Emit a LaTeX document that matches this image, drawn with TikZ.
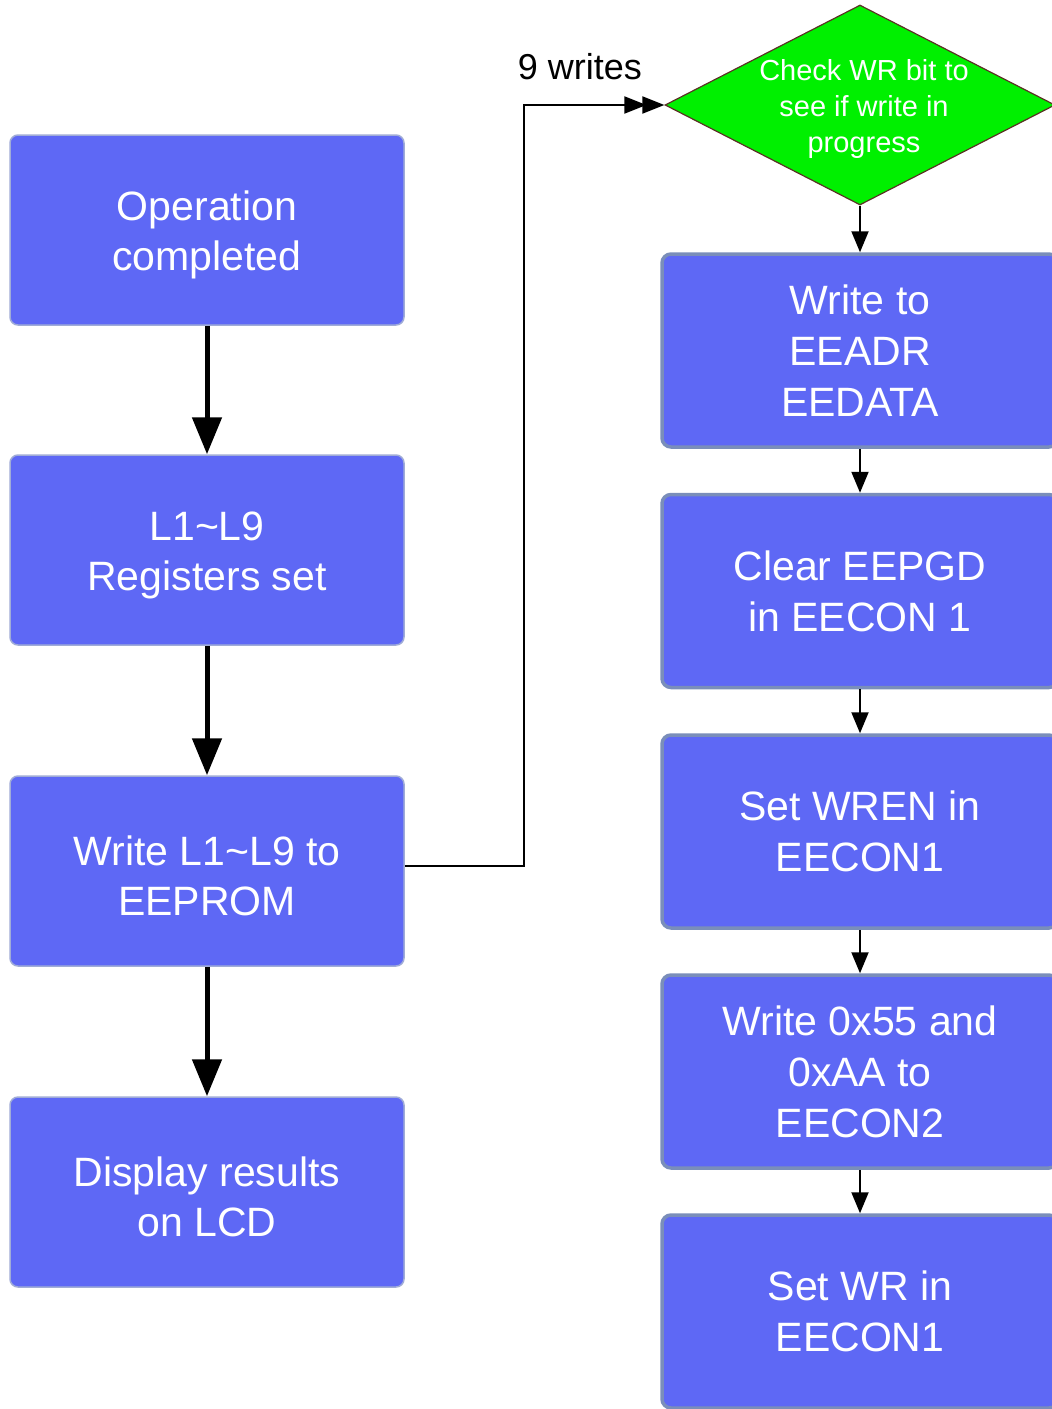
\documentclass[tikz,border=0pt]{standalone}
\usepackage{fontspec}
\setmainfont{Liberation Sans}
\usetikzlibrary{shapes.geometric,arrows.meta}
\definecolor{boxblue}{RGB}{94,104,245}
\definecolor{leftedge}{RGB}{160,172,215}
\definecolor{rightedge}{RGB}{122,142,186}
\definecolor{decgreen}{RGB}{0,240,0}
\definecolor{decedge}{RGB}{90,50,35}
% a taller first line drops the two-line captions slightly
\newcommand{\capstrut}{\rule{0pt}{40pt}}
\tikzset{
  leftbox/.style={draw=leftedge, line width=1.5pt, fill=boxblue, rounded corners=8pt,
    minimum width=394pt, minimum height=190pt, inner sep=0pt, text=white, align=center,
    font=\fontsize{41}{50}\selectfont},
  rightbox/.style={draw=rightedge, line width=3.5pt, fill=boxblue, rounded corners=9pt,
    minimum width=396pt, minimum height=193pt, inner sep=0pt, text=white, align=center,
    font=\fontsize{41}{51}\selectfont},
  decision/.style={diamond, draw=decedge, line width=1.2pt, fill=decgreen,
    minimum width=390pt, minimum height=200pt, inner sep=0pt},
  dectext/.style={text=white, align=center, inner sep=0pt, font=\fontsize{29}{36}\selectfont},
  bigarrow/.style={line width=5pt, -{Triangle[length=37pt,width=29pt]}},
  smallarrow/.style={line width=2pt, -{Triangle[length=21pt,width=17pt]}},
  looparrow/.style={line width=2pt, -{Triangle[length=22pt,width=17pt,sep=-4pt]Triangle[length=22pt,width=17pt]}}
}
\begin{document}
\begin{tikzpicture}[x=1pt,y=-1pt]
\useasboundingbox (0,0) rectangle (1052,1409);
\clip (0,0) rectangle (1052,1409);
\fill[white] (0,0) rectangle (1052,1409);

% main sequence on the left
\node[leftbox] (done)  at (207,230)  {\capstrut Operation\\completed};
\node[leftbox] (regs)  at (207,550)  {\capstrut L1\textasciitilde L9\\Registers set};
\node[leftbox] (write) at (207,871)  {\capstrut Write L1\textasciitilde L9 to\\EEPROM};
\node[leftbox] (lcd)   at (207,1192) {\capstrut Display results\\on LCD};

\draw[bigarrow] (done.south) -- (regs.north);
\draw[bigarrow] (regs.south) -- (write.north);
\draw[bigarrow] (write.south) -- (lcd.north);

% EEPROM write routine on the right
\node[decision] (chk) at (860,105) {};
\node[dectext] (chktext) at (864,108.5) {Check WR bit to\\see if write in\\progress};

\node[rightbox] (addr)  at (860,350.5)  {Write to\\EEADR\\EEDATA};
\node[rightbox] (eepgd) at (860,591)    {Clear EEPGD\\in EECON 1};
\node[rightbox] (wren)  at (860,831.5)  {Set WREN in\\EECON1};
\node[rightbox] (seq)   at (860,1071.5) {Write 0x55 and\\0xAA to\\EECON2};
\node[rightbox] (wr)    at (860,1311.5) {Set WR in\\EECON1};

\draw[smallarrow] (chk.south) -- (addr.north);
\draw[smallarrow] (addr.south) -- (eepgd.north);
\draw[smallarrow] (eepgd.south) -- (wren.north);
\draw[smallarrow] (wren.south) -- (seq.north);
\draw[smallarrow] (seq.south) -- (wr.north);

% loop into the routine
\coordinate (bend) at (524,866);
\draw[looparrow] ([yshift=5pt]write.east) -- (bend) |- (chk.west);
\node[font=\fontsize{36}{40}\selectfont, inner sep=0pt] (nine) at (580,67) {9 writes};
\end{tikzpicture}
\end{document}
